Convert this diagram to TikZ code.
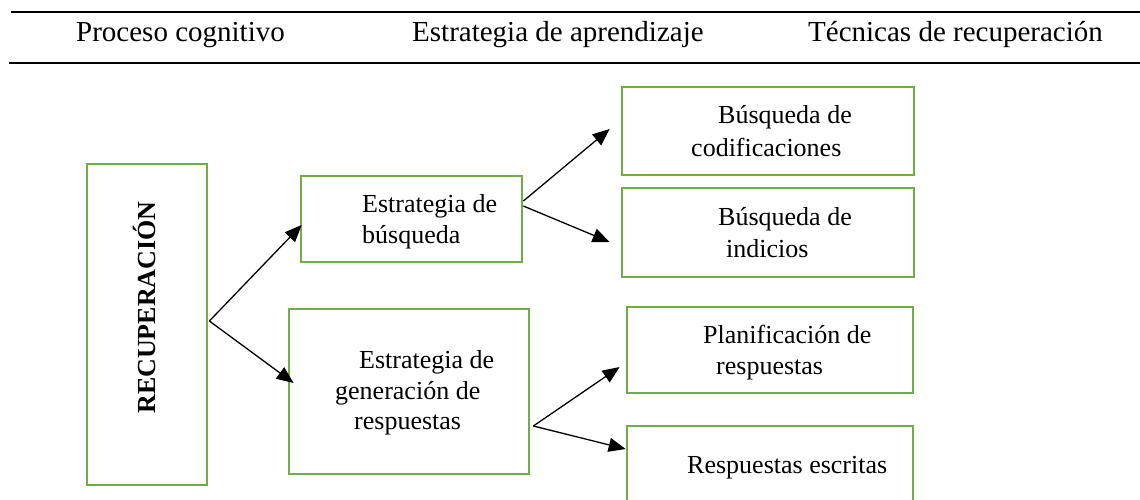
\documentclass[tikz,border=0pt]{standalone}
\usepackage{fontspec}
\setmainfont{Liberation Serif}
\usetikzlibrary{arrows.meta}
\definecolor{boxgreen}{HTML}{70AD47}
\begin{document}
\begin{tikzpicture}[x=1pt,y=-1pt,
  box/.style={draw=boxgreen, line width=2.7pt, inner sep=0pt},
  arr/.style={-{Triangle[length=17pt,width=14pt]}, line width=1.3pt},
  rulel/.style={line width=2.2pt},
  head/.style={anchor=base west, inner sep=0pt, font=\fontsize{29}{34}\selectfont},
  txt/.style={anchor=base west, inner sep=0pt, font=\fontsize{26}{31}\selectfont}]
\clip (0,0) rectangle (1140,499);
\fill[white] (0,0) rectangle (1140,499);
% rules
\coordinate (r1a) at (11,12); \coordinate (r1b) at (1141,12);
\coordinate (r2a) at (9,63);  \coordinate (r2b) at (1141,63);
\draw[rulel] (r1a) -- (r1b);
\draw[rulel] (r2a) -- (r2b);
% headers
\node[head] (h1) at (76,41) {Proceso cognitivo};
\node[head] (h2) at (412,41) {Estrategia de aprendizaje};
\node[head] (h3) at (808,41) {Técnicas de recuperación};
% boxes
\node[box, minimum width=120pt, minimum height=321pt] (rec) at (147,324.5) {};
\node[box, minimum width=221pt, minimum height=86pt] (busq) at (411.5,219) {};
\node[box, minimum width=240pt, minimum height=165pt] (gen) at (409,391.5) {};
\node[box, minimum width=292pt, minimum height=88pt] (cod) at (768,131) {};
\node[box, minimum width=292pt, minimum height=89pt] (ind) at (768,232.5) {};
\node[box, minimum width=286pt, minimum height=86pt] (plan) at (770,350) {};
\node[box, minimum width=286pt, minimum height=90pt] (esc) at (770,471) {};
% texts
\node[rotate=90, anchor=base, inner sep=0pt, font=\bfseries\fontsize{26}{31}\selectfont] (rect) at (155,307.5) {RECUPERACIÓN};
\node[txt] (b1) at (362,212) {Estrategia de};
\node[txt] (b2) at (362,243) {búsqueda};
\node[txt] (c1) at (718,123) {Búsqueda de};
\node[txt] (c2) at (691,156) {codificaciones};
\node[txt] (i1) at (718,225) {Búsqueda de};
\node[txt] (i2) at (726,257) {indicios};
\node[txt] (g1) at (359,368) {Estrategia de};
\node[txt] (g2) at (335,399) {generación de};
\node[txt] (g3) at (354,429) {respuestas};
\node[txt] (p1) at (703,343) {Planificación de};
\node[txt] (p2) at (716,374) {respuestas};
\node[txt] (e1) at (687,473) {Respuestas escritas};
% arrows
\draw[arr] ([xshift=1pt,yshift=3.5pt]rec.east) -- ([xshift=2pt,yshift=-6pt]busq.west);
\draw[arr] ([xshift=1pt,yshift=3.5pt]rec.east) -- ([xshift=6pt,yshift=8.5pt]gen.west);
\draw[arr] ([yshift=18pt]busq.east) -- ([xshift=-11pt,yshift=2pt]cod.west);
\draw[arr] ([yshift=13pt]busq.east) -- ([xshift=-11pt,yshift=-9.5pt]ind.west);
\draw[arr] ([xshift=3pt,yshift=-34.5pt]gen.east) -- ([xshift=-6pt,yshift=-17pt]plan.west);
\draw[arr] ([xshift=3pt,yshift=-34.5pt]gen.east) -- ([yshift=22pt]esc.west);
\end{tikzpicture}
\end{document}
